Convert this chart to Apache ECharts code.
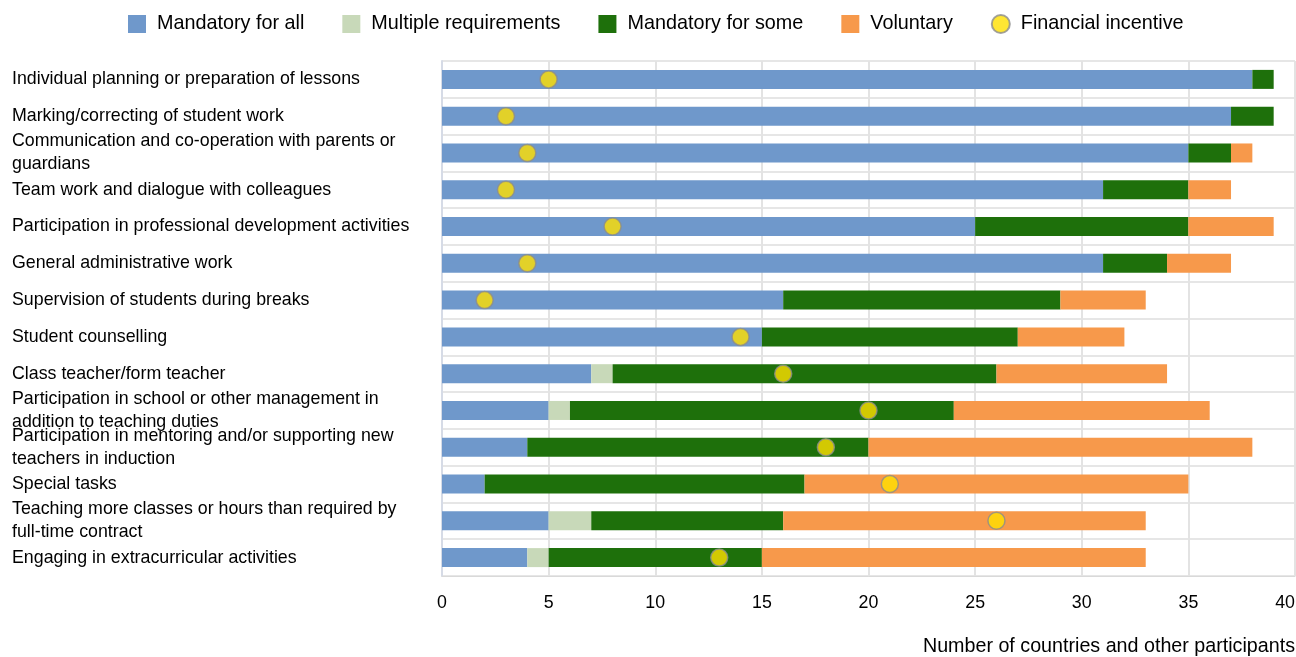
<!DOCTYPE html>
<html>
<head>
<meta charset="utf-8">
<script src="https://cdn.jsdelivr.net/npm/echarts@6/dist/echarts.min.js"></script>
<style>html,body{margin:0;padding:0;background:#fff;}#c{width:1296px;height:657px;}</style>
</head>
<body>
<div id="c"></div>
<script>
var categories = [
  "Individual planning or preparation of lessons",
  "Marking/correcting of student work",
  "Communication and co-operation with parents or\nguardians",
  "Team work and dialogue with colleagues",
  "Participation in professional development activities",
  "General administrative work",
  "Supervision of students during breaks",
  "Student counselling",
  "Class teacher/form teacher",
  "Participation in school or other management in\naddition to teaching duties",
  "Participation in mentoring and/or supporting new\nteachers in induction",
  "Special tasks",
  "Teaching more classes or hours than required by\nfull-time contract",
  "Engaging in extracurricular activities"
];
var mandatoryAll   = [38, 37, 35, 31, 25, 31, 16, 15, 7, 5, 4, 2, 5, 4];
var multipleReq    = [0, 0, 0, 0, 0, 0, 0, 0, 1, 1, 0, 0, 2, 1];
var mandatorySome  = [1, 2, 2, 4, 10, 3, 13, 12, 18, 18, 16, 15, 9, 10];
var voluntary      = [0, 0, 1, 2, 4, 3, 4, 5, 8, 12, 18, 18, 17, 18];
var incentive      = [5, 3, 4, 3, 8, 4, 2, 14, 16, 20, 18, 21, 26, 13];
var xTicks = [0, 5, 10, 15, 20, 25, 30, 35, 40];
var axisTitle = "Number of countries and other participants";

var FONT = "'Liberation Sans', Arial, sans-serif";
var chart = echarts.init(document.getElementById('c'), null, {renderer: 'canvas'});

function barSeries(name, data, color) {
  return {
    name: name, type: 'bar', stack: 'total', data: data,
    barWidth: 19, itemStyle: {color: color}, silent: true
  };
}

chart.setOption({
  animation: false,
  textStyle: {fontFamily: FONT},
  title: {
    text: axisTitle, right: 1, top: 637,
    textStyle: {fontFamily: FONT, fontSize: 19.7, fontWeight: 'normal', color: '#000'},
    padding: 0
  },
  legend: {
    top: 9, left: 123,
    itemWidth: 18, itemHeight: 18, itemGap: 38,
    textStyle: {fontFamily: FONT, fontSize: 19.8, color: '#000', padding: [0, 0, 0, 6]},
    data: [
      {name: 'Mandatory for all', icon: 'rect'},
      {name: 'Multiple requirements', icon: 'rect'},
      {name: 'Mandatory for some', icon: 'rect'},
      {name: 'Voluntary', icon: 'rect'},
      {name: 'Financial incentive', icon: 'circle'}
    ]
  },
  grid: {left: 442, right: 1, top: 61, height: 515, containLabel: false, outerBoundsMode: 'none'},
  xAxis: {
    type: 'value', min: 0, max: 40, interval: 5,
    axisLine: {show: true, lineStyle: {color: '#d9d9d9', width: 1}},
    axisTick: {show: false},
    axisLabel: {
      fontFamily: FONT, fontSize: 17.8, color: '#000', margin: 18,
      alignMaxLabel: 'right',
      formatter: function (v) { return xTicks.indexOf(v) >= 0 ? String(v) : ''; }
    },
    splitLine: {show: true, lineStyle: {color: '#e3e3e3', width: 2}}
  },
  yAxis: {
    type: 'category', data: categories, inverse: true,
    axisLine: {show: true, lineStyle: {color: '#d6dbe6', width: 2}},
    axisTick: {show: false},
    splitLine: {show: true, lineStyle: {color: '#e6e6e6', width: 2}},
    axisLabel: {
      fontFamily: FONT, fontSize: 17.8, color: '#000', align: 'left',
      margin: 430, lineHeight: 23, interval: 0, hideOverlap: false,
      verticalAlign: 'middle', padding: [4, 0, 0, 0]
    }
  },
  series: [
    barSeries('Mandatory for all', mandatoryAll, '#6f98cb'),
    barSeries('Multiple requirements', multipleReq, '#c8d9b9'),
    barSeries('Mandatory for some', mandatorySome, '#1e700b'),
    barSeries('Voluntary', voluntary, '#f7994b'),
    {
      name: 'Financial incentive', type: 'scatter',
      data: incentive.map(function (v, i) { return [v, i]; }),
      symbol: 'circle', symbolSize: 17, z: 5,
      itemStyle: {color: '#ffe000', borderColor: '#8c8c8c', borderWidth: 1.5}
    }
  ]
});
</script>
</body>
</html>
